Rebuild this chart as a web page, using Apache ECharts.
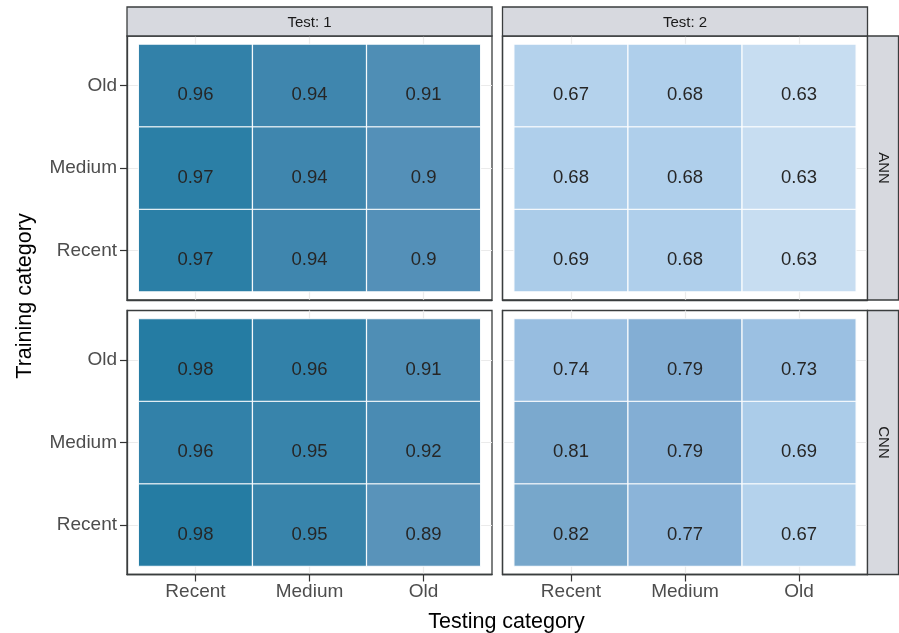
<!DOCTYPE html>
<html>
<head>
<meta charset="utf-8">
<title>Accuracy by training and testing category</title>
<script src="https://cdn.jsdelivr.net/npm/echarts@6/dist/echarts.min.js"></script>
<style>
  html, body { margin: 0; padding: 0; background: #fff; }
  #chart { width: 899px; height: 633px; }
</style>
</head>
<body>
<div id="chart"></div>
<script>
// Category levels (used for both axes)
const categories = ['Recent', 'Medium', 'Old'];
// Facet levels
const tests = ['Test: 1', 'Test: 2'];
const models = ['ANN', 'CNN'];

// Accuracy tables: one row per training category (Recent, Medium, Old),
// one column per testing category (Recent, Medium, Old)
const annTest1 = [
  [0.97, 0.94, 0.90],
  [0.97, 0.94, 0.90],
  [0.96, 0.94, 0.91]
];
const annTest2 = [
  [0.69, 0.68, 0.63],
  [0.68, 0.68, 0.63],
  [0.67, 0.68, 0.63]
];
const cnnTest1 = [
  [0.98, 0.95, 0.89],
  [0.96, 0.95, 0.92],
  [0.98, 0.96, 0.91]
];
const cnnTest2 = [
  [0.82, 0.77, 0.67],
  [0.81, 0.79, 0.69],
  [0.74, 0.79, 0.73]
];

// Fill scale, light blue (low) to deep teal (high)
const fillStops = ['#c7ddf1', '#afcfeb', '#9bc0e2', '#87b1d7', '#73a4c8', '#5e95bc', '#4589b1', '#257ca3'];
const fillMin = 0.63;
const fillMax = 0.98;

// panels[row][col]
const panels = [
  [annTest1, annTest2],
  [cnnTest1, cnnTest2]
];

const FONT = '"Liberation Sans", Arial, Helvetica, sans-serif';
const panelLeft = [127, 502.5];
const panelTop = [36, 310.5];
const panelW = 365;
const panelH = 264;
const stripH = 29;
const stripW = 31;
const borderColor = '#3a3d3e';
const stripFill = '#d7d9df';

const grids = [], xAxes = [], yAxes = [], series = [], graphics = [];

function toTriples(table) {
  const out = [];
  table.forEach((row, ti) => row.forEach((v, xi) => out.push([xi, ti, v])));
  return out;
}

function renderTile(params, api) {
  const x = api.value(0), y = api.value(1), v = api.value(2);
  const c = api.coord([x, y]);
  const s = api.size([1, 1]);
  return {
    type: 'group',
    children: [
      {
        type: 'rect',
        shape: { x: c[0] - s[0] / 2, y: c[1] - s[1] / 2, width: s[0], height: s[1] },
        style: { fill: api.visual('color'), stroke: 'rgba(255,255,255,0.9)', lineWidth: 1.2 }
      },
      {
        type: 'text',
        x: c[0],
        y: c[1] + 9.5,
        style: {
          text: String(v),
          fill: '#262626',
          font: '18.5px ' + FONT,
          textAlign: 'center',
          textVerticalAlign: 'middle'
        }
      }
    ]
  };
}

let idx = 0;
for (let r = 0; r < 2; r++) {
  for (let c = 0; c < 2; c++) {
    grids.push({
      left: panelLeft[c], top: panelTop[r], width: panelW, height: panelH,
      show: true, backgroundColor: '#fff', borderColor: borderColor, borderWidth: 1.3,
      containLabel: false
    });
    const showX = r === 1;
    const showY = c === 0;
    xAxes.push({
      type: 'value', gridIndex: idx, min: -0.6, max: 2.6, position: 'bottom',
      axisLine: { show: true, onZero: false, lineStyle: { color: borderColor, width: 1.3 } },
      axisTick: { show: showX, customValues: [0, 1, 2], length: 7, lineStyle: { color: '#333', width: 1.2 } },
      axisLabel: {
        show: showX, customValues: [0, 1, 2], margin: 8,
        formatter: v => categories[Math.round(v)],
        color: '#4d4d4d', fontSize: 19, fontFamily: FONT
      },
      splitLine: { show: true, lineStyle: { color: '#ebebeb', width: 1.2 } }
    });
    yAxes.push({
      type: 'value', gridIndex: idx, min: -0.6, max: 2.6, position: 'left',
      axisLine: { show: true, onZero: false, lineStyle: { color: borderColor, width: 1.3 } },
      axisTick: { show: showY, customValues: [0, 1, 2], length: 7, lineStyle: { color: '#333', width: 1.2 } },
      axisLabel: {
        show: showY, customValues: [0, 1, 2], margin: 10, padding: [9, 0, 0, 0],
        formatter: v => categories[Math.round(v)],
        color: '#4d4d4d', fontSize: 19, fontFamily: FONT
      },
      splitLine: { show: true, lineStyle: { color: '#ebebeb', width: 1.2 } }
    });
    series.push({
      type: 'custom', name: models[r] + ' ' + tests[c],
      xAxisIndex: idx, yAxisIndex: idx,
      data: toTriples(panels[r][c]),
      renderItem: renderTile,
      encode: { x: 0, y: 1 },
      silent: true
    });
    idx++;
  }
}

// Facet strips: test on top, model on the right
tests.forEach((t, c) => {
  graphics.push({
    type: 'rect', z: 10,
    shape: { x: panelLeft[c], y: panelTop[0] - stripH, width: panelW, height: stripH },
    style: { fill: stripFill, stroke: borderColor, lineWidth: 1.3 }
  });
  graphics.push({
    type: 'text', z: 11,
    x: panelLeft[c] + panelW / 2, y: panelTop[0] - stripH / 2 + 1,
    style: { text: t, fill: '#1a1a1a', font: '15px ' + FONT, textAlign: 'center', textVerticalAlign: 'middle' }
  });
});
models.forEach((m, r) => {
  const sx = panelLeft[1] + panelW;
  graphics.push({
    type: 'rect', z: 10,
    shape: { x: sx, y: panelTop[r], width: stripW, height: panelH },
    style: { fill: stripFill, stroke: borderColor, lineWidth: 1.3 }
  });
  graphics.push({
    type: 'text', z: 11,
    x: sx + stripW / 2, y: panelTop[r] + panelH / 2,
    rotation: -Math.PI / 2,
    style: { text: m, fill: '#1a1a1a', font: '15px ' + FONT, textAlign: 'center', textVerticalAlign: 'middle' }
  });
});

// Axis titles
graphics.push({
  type: 'text', z: 11, x: 506.5, y: 622,
  style: { text: 'Testing category', fill: '#000', font: '21.5px ' + FONT, textAlign: 'center', textVerticalAlign: 'middle' }
});
graphics.push({
  type: 'text', z: 11, x: 25, y: 296, rotation: Math.PI / 2,
  style: { text: 'Training category', fill: '#000', font: '21.5px ' + FONT, textAlign: 'center', textVerticalAlign: 'middle' }
});

const chart = echarts.init(document.getElementById('chart'), null, { renderer: 'canvas' });
chart.setOption({
  animation: false,
  backgroundColor: '#fff',
  grid: grids,
  xAxis: xAxes,
  yAxis: yAxes,
  visualMap: {
    type: 'continuous', show: false, dimension: 2,
    min: fillMin, max: fillMax,
    seriesIndex: series.map((_, i) => i),
    inRange: { color: fillStops }
  },
  series: series,
  graphic: graphics
});
</script>
</body>
</html>
